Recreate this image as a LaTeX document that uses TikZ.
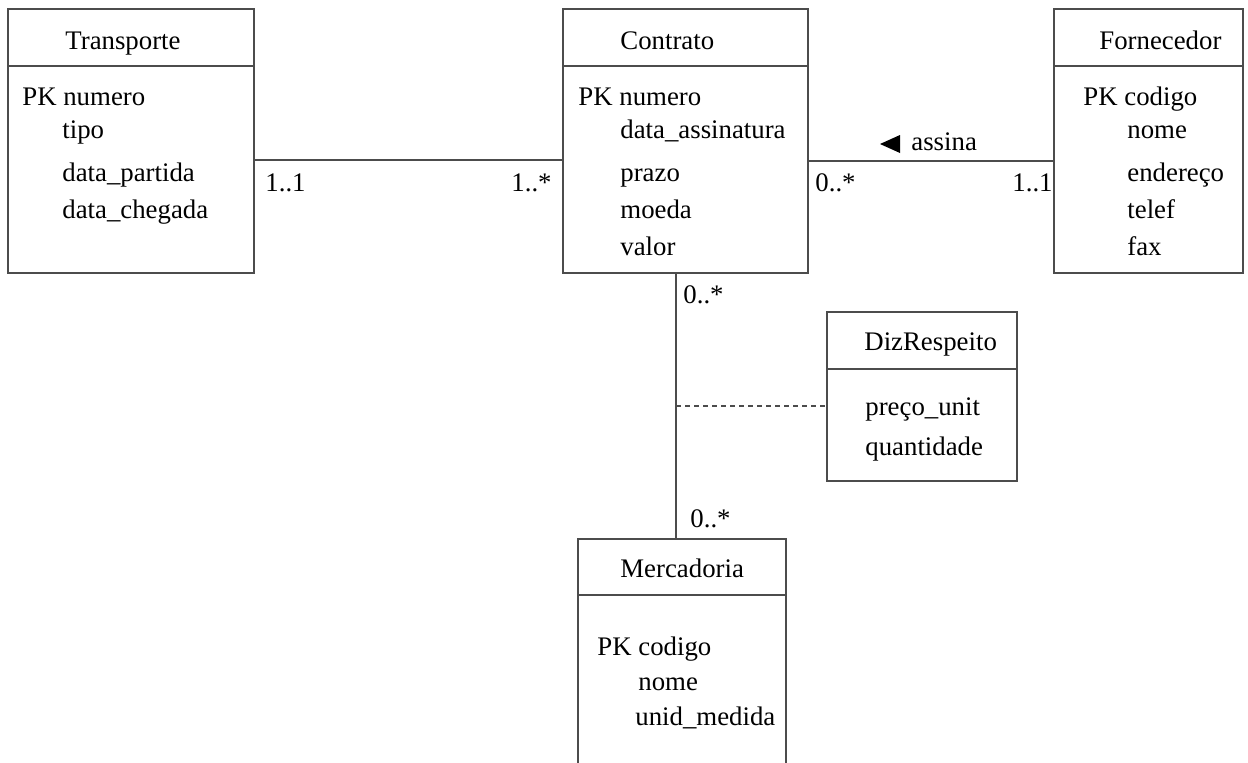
\documentclass[tikz,border=0pt]{standalone}
\usepackage{fontspec}
\setmainfont{Liberation Serif}
\usetikzlibrary{fit}
\definecolor{linegray}{gray}{0.3}
\tikzset{every node/.style={font=\fontsize{13.4}{16}\selectfont, inner sep=0pt},
  classbox/.style={draw=linegray, line width=0.6pt, inner sep=0pt},
  attr/.style={anchor=base west},
  link/.style={draw=linegray, line width=0.6pt}}
% header line of a class box at height #2
\newcommand{\classhead}[2]{\draw[link] (#1.west |- 0,#2) -- (#1.east |- 0,#2);}

\begin{document}
\begin{tikzpicture}[x=0.5pt,y=-0.5pt]
  \clip (0,0) rectangle (1248,762);
  \fill[white] (0,0) rectangle (1248,762);
  % classes
  \node[classbox, fit={(8,9) (254,273)}] (transporte) {};
  \node[classbox, fit={(563,9) (808,273)}] (contrato) {};
  \node[classbox, fit={(1054,9) (1243,273)}] (fornecedor) {};
  \node[classbox, fit={(827,312) (1017,481)}] (dizrespeito) {};
  \node[classbox, fit={(578,539) (786,800)}] (mercadoria) {};
  \classhead{transporte}{66}
  \classhead{contrato}{66}
  \classhead{fornecedor}{66}
  \classhead{dizrespeito}{369}
  \classhead{mercadoria}{595}
  % titles
  \node[attr] (tr-title) at (65,49) {Transporte};
  \node[attr] (co-title) at (620,49) {Contrato};
  \node[attr] (fo-title) at (1099,49) {Fornecedor};
  \node[attr] (dr-title) at (864,350) {DizRespeito};
  \node[attr] (me-title) at (620,577) {Mercadoria};
  % attributes
  \node[attr] (tr-pk) at (22,105) {PK numero};
  \node[attr] (tr-a1) at (62,138) {tipo};
  \node[attr] (tr-a2) at (62,181) {data\_partida};
  \node[attr] (tr-a3) at (62,218) {data\_chegada};
  \node[attr] (co-pk) at (578,105) {PK numero};
  \node[attr] (co-a1) at (620,138) {data\_assinatura};
  \node[attr] (co-a2) at (620,181) {prazo};
  \node[attr] (co-a3) at (620,218) {moeda};
  \node[attr] (co-a4) at (620,255) {valor};
  \node[attr] (fo-pk) at (1083,105) {PK codigo};
  \node[attr] (fo-a1) at (1127,138) {nome};
  \node[attr] (fo-a2) at (1127,181) {endereço};
  \node[attr] (fo-a3) at (1127,218) {telef};
  \node[attr] (fo-a4) at (1127,255) {fax};
  \node[attr] (dr-a1) at (865,415) {preço\_unit};
  \node[attr] (dr-a2) at (865,455) {quantidade};
  \node[attr] (me-pk) at (597,655) {PK codigo};
  \node[attr] (me-a1) at (638,690) {nome};
  \node[attr] (me-a2) at (635,725) {unid\_medida};
  % associations
  \draw[link] (transporte.east |- 0,160) -- (contrato.west |- 0,160);
  \draw[link] (contrato.east |- 0,161) -- (fornecedor.west |- 0,161);
  \draw[link] (contrato.south -| 676,0) -- (mercadoria.north -| 676,0);
  \coordinate (assoc) at (676,406);
  \draw[link, dash pattern=on 2.5pt off 2pt] (assoc) -- (dizrespeito.west |- assoc);
  % multiplicities
  \node[attr] (m1) at (265,191) {1..1};
  \node[attr] (m2) at (511,191) {1..*};
  \node[attr] (m3) at (815,191) {0..*};
  \node[attr] (m4) at (1012,191) {1..1};
  \node[attr] (m5) at (683,303) {0..*};
  \node[attr] (m6) at (690,527) {0..*};
  \fill (880,144) -- (900,135) -- (900,153) -- cycle;
  \node[attr] (assina) at (911,150) {assina};
\end{tikzpicture}
\end{document}
